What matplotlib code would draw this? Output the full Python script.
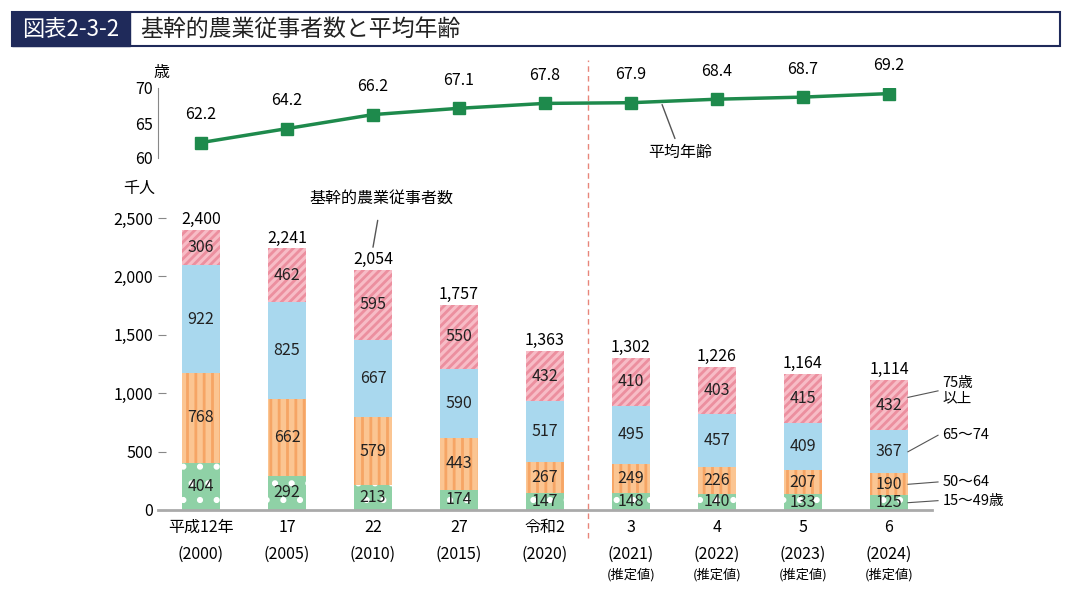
import numpy as np
import matplotlib.pyplot as plt
from matplotlib.patches import Rectangle
from matplotlib.lines import Line2D

plt.rcParams['font.family'] = ['Noto Sans CJK JP', 'DejaVu Sans']
plt.rcParams['hatch.linewidth'] = 2.0

years = ["平成12年", "17", "22", "27", "令和2", "3", "4", "5", "6"]
western = ["(2000)", "(2005)", "(2010)", "(2015)", "(2020)", "(2021)", "(2022)", "(2023)", "(2024)"]
estimated = [False] * 5 + [True] * 4
age = [62.2, 64.2, 66.2, 67.1, 67.8, 67.9, 68.4, 68.7, 69.2]
g15_49 = [404, 292, 213, 174, 147, 148, 140, 133, 125]
g50_64 = [768, 662, 579, 443, 267, 249, 226, 207, 190]
g65_74 = [922, 825, 667, 590, 517, 495, 457, 409, 367]
g75 = [306, 462, 595, 550, 432, 410, 403, 415, 432]
totals = [2400, 2241, 2054, 1757, 1363, 1302, 1226, 1164, 1114]

W, H = 1073, 590
fig = plt.figure(figsize=(W / 100, H / 100), dpi=100)

def fx(px): return px / W
def fy(py): return 1 - py / H

# title
fig.patches.append(Rectangle((fx(12), fy(46)), fx(1048), 34 / H, transform=fig.transFigure,
                             facecolor='white', edgecolor='#1f2a5a', lw=1.5))
fig.patches.append(Rectangle((fx(12), fy(46)), fx(118), 34 / H, transform=fig.transFigure,
                             facecolor='#1f2a5a', edgecolor='#1f2a5a'))
fig.text(fx(71), fy(29), "図表2-3-2", color='white', fontsize=16, ha='center', va='center')
fig.text(fx(140), fy(29), "基幹的農業従事者数と平均年齢", color='#222222', fontsize=16.5, ha='left', va='center')

x = np.arange(len(years))
left, width = fx(158), 774 / W

# top: average age
ax1 = fig.add_axes([left, fy(158), width, 70 / H])
ax1.plot(x, age, color='#1e8a4c', lw=2.5, marker='s', ms=9, mfc='#1e8a4c', mec='#1e8a4c')
for xi, v in zip(x, age):
    ax1.text(xi, v + 2.8, f"{v:.1f}", ha='center', va='bottom', fontsize=11.5)
ax1.set_xlim(-0.5, 8.5)
ax1.set_ylim(60, 70)
ax1.set_yticks([60, 65, 70])
ax1.tick_params(axis='y', labelsize=11.5, length=0)
ax1.set_xticks([])
for s in ['top', 'right', 'bottom']:
    ax1.spines[s].set_visible(False)
ax1.spines['left'].set_color('#888888')
fig.text(fx(153), fy(73), "歳", fontsize=11.5, ha='left', va='center')
ax1.annotate("平均年齢", xy=(5.35, 68.0), xytext=(5.2, 60.8), fontsize=11.5,
             ha='left', va='center', annotation_clip=False,
             arrowprops=dict(arrowstyle='-', color='#555555', lw=1))

# bottom: workers
ax2 = fig.add_axes([left, fy(510), width, 292 / H])
bw = 0.44
layers = [
    (g15_49, '#8fd1a6', 'white', '.'),
    (g50_64, '#fbc592', '#f6a565', '||'),
    (g65_74, '#a9d8ee', None, None),
    (g75, '#f7bcc6', '#ec8f9f', '////'),
]
bottom = np.zeros(len(x))
for vals, fc, hc, hatch in layers:
    ax2.bar(x, vals, bw, bottom=bottom, color=fc, linewidth=0)
    if hatch:
        ax2.bar(x, vals, bw, bottom=bottom, facecolor='none', edgecolor=hc,
                hatch=hatch, linewidth=0)
    for xi, b, v in zip(x, bottom, vals):
        ax2.text(xi, b + v / 2, str(v), ha='center', va='center', fontsize=11.5, color='#222222')
    bottom += np.array(vals)
for xi, t in zip(x, totals):
    ax2.text(xi, t + 15, f"{t:,}", ha='center', va='bottom', fontsize=11.5)
ax2.set_xlim(-0.5, 8.5)
ax2.set_ylim(0, 2500)
ax2.set_yticks(range(0, 2501, 500))
ax2.set_yticklabels([f"{v:,}" for v in range(0, 2501, 500)])
ax2.tick_params(axis='y', labelsize=11.5, length=6, color='#888888', direction='in')
ax2.set_xticks([])
for s in ['top', 'right', 'left']:
    ax2.spines[s].set_visible(False)
ax2.spines['bottom'].set_color('#aaaaaa')
ax2.spines['bottom'].set_linewidth(2)
fig.text(fx(123), fy(188), "千人", fontsize=11.5, ha='left', va='center')

for xi, y1, y2, est in zip(x, years, western, estimated):
    ax2.text(xi, -150, y1, ha='center', va='center', fontsize=11.5)
    ax2.text(xi, -380, y2, ha='center', va='center', fontsize=11.5)
    if est:
        ax2.text(xi, -555, "(推定値)", ha='center', va='center', fontsize=9.5)

ax2.annotate("基幹的農業従事者数", xy=(2, 2250), xytext=(2.1, 2670), fontsize=11.5,
             ha='center', va='center', annotation_clip=False,
             arrowprops=dict(arrowstyle='-', color='#555555', lw=1, shrinkA=8, shrinkB=0))

# labels at right
rx = 8 + bw / 2
labels = [(g15_49[-1] / 2, 80, "15～49歳"),
          (g15_49[-1] + g50_64[-1] / 2, 240, "50～64"),
          (g15_49[-1] + g50_64[-1] + g65_74[-1] / 2, 640, "65～74"),
          (totals[-1] - 150, 1020, "75歳\n以上")]
for ys, yt, lab in labels:
    ax2.plot([rx, rx + 0.35], [ys, yt], color='#555555', lw=0.8, clip_on=False)
    ax2.text(rx + 0.4, yt, lab, ha='left', va='center', fontsize=10.5, linespacing=1.1)

fig.lines.append(Line2D([fx(588), fx(588)], [fy(538), fy(60)], transform=fig.transFigure,
                        color='#e8857a', lw=1, ls=(0, (4, 3))))

fig.savefig("out.png", dpi=100)
